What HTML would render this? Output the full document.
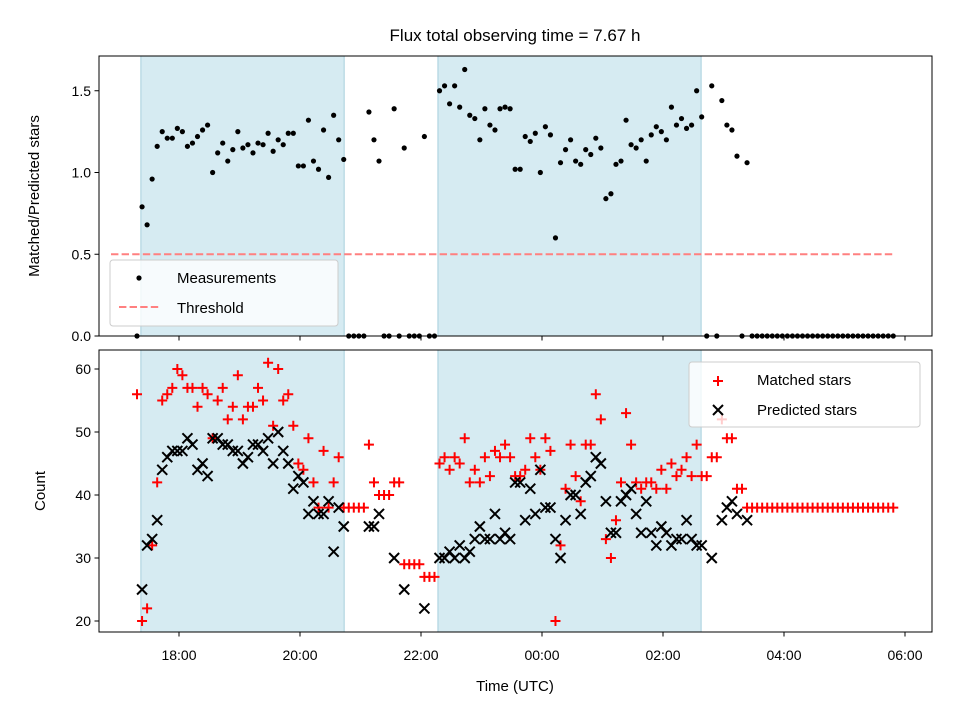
<!DOCTYPE html>
<html><head><meta charset="utf-8"><style>
html,body{margin:0;padding:0;background:#fff}
svg{display:block;font-family:"Liberation Sans","DejaVu Sans",sans-serif}
</style></head><body>
<svg id="chart" width="960" height="720" viewBox="0 0 960 720"></svg>
<script>
const ratioValues=[0,0.79,0.68,0.96,1.16,1.25,1.21,1.21,1.27,1.25,1.16,1.18,1.22,1.26,1.29,1.00,1.12,1.18,1.07,1.14,1.25,1.15,1.17,1.12,1.18,1.17,1.24,1.13,1.20,1.17,1.24,1.24,1.04,1.04,1.32,1.07,1.02,1.26,0.97,1.35,1.20,1.08,
0,0,0,0,1.37,1.20,1.07,0,0,1.39,0,1.15,0,0,0,1.22,0,0,
1.50,1.53,1.42,1.53,1.40,1.63,1.35,1.33,1.20,1.39,1.29,1.26,1.39,1.40,1.39,1.02,1.02,1.22,1.19,1.24,1.00,1.28,1.23,0.60,1.06,1.14,1.20,1.07,1.05,1.14,1.11,1.21,1.15,0.84,0.87,1.05,1.07,1.32,1.17,1.15,1.20,1.07,1.23,1.28,1.25,1.20,1.40,1.29,1.33,1.27,1.29,1.50,1.34,
0,1.53,0,1.44,1.29,1.26,1.10,0,1.06,
0,0,0,0,0,0,0,0,0,0,0,0,0,0,0,0,0,0,0,0,0,0,0,0,0,0,0,0,0];
const matchedValues=[56,20,22,32,42,55,56,57,60,59,57,57,54,57,56,49,55,57,52,54,59,52,54,54,57,55,61,51,60,55,56,51,45,44,49,42,38,47,38,42,46,38,
38,38,38,38,48,42,40,40,40,42,42,29,29,29,29,27,27,27,
45,46,44,46,45,49,42,44,42,46,43,47,46,48,46,43,43,44,49,46,44,49,47,20,32,41,48,43,39,48,48,56,52,33,30,36,42,53,48,42,41,42,42,41,44,41,45,43,44,46,43,48,43,
43,46,46,52,49,49,41,41,38,
38,38,38,38,38,38,38,38,38,38,38,38,38,38,38,38,38,38,38,38,38,38,38,38,38,38,38,38,38];
const predictedValues=[null,25,32,33,36,44,46,47,47,47,49,48,44,45,43,49,49,48,48,47,47,45,46,48,48,47,49,45,50,47,45,41,43,42,37,39,37,37,39,31,38,35,
null,null,null,null,35,35,37,null,null,30,null,25,null,null,null,22,null,null,
30,30,31,30,32,30,31,33,35,33,33,37,33,34,33,42,42,36,41,37,44,38,38,33,30,36,40,40,37,42,43,46,45,39,34,34,39,40,41,37,34,39,34,32,35,34,32,33,33,36,33,32,32,
null,30,null,36,38,39,37,null,36,
null,null,null,null,null,null,null,null,null,null,null,null,null,null,null,null,null,null,null,null,null,null,null,null,null,null,null,null,null];
const startHour=17.306, stepMinutes=5;
const xTickHours=[18,20,22,24,26,28,30];
const xTickLabels=["18:00","20:00","22:00","00:00","02:00","04:00","06:00"];
const ratioTicks=[0,0.5,1.0,1.5];
const ratioTickLabels=["0.0","0.5","1.0","1.5"];
const countTicks=[20,30,40,50,60];
const spans=[[17.37,20.73],[22.28,26.63]];
const threshold=0.5;

const NS="http://www.w3.org/2000/svg";
const svg=document.getElementById('chart');
function mk(tag,attrs,parent){const e=document.createElementNS(NS,tag);for(const k in attrs)e.setAttribute(k,attrs[k]);(parent||svg).appendChild(e);return e;}
const X=h=>179+(h-18)*60.5;
const YR=v=>336-v*163.5;
const YC=c=>621-(c-20)*6.3;
const L=99,R=932,T1=56,B1=336,T2=350,B2=632;
const times=ratioValues.map((_,i)=>startHour+i*stepMinutes/60);

let t=mk('text',{x:515,y:41,'text-anchor':'middle','font-size':17});t.textContent='Flux total observing time = 7.67 h';



[[T1,B1,'top'],[T2,B2,'bottom']].forEach(([top,bot,nm])=>{
  spans.forEach((s,k)=>{
    const r=mk('rect',{x:X(s[0]),y:top,width:X(s[1])-X(s[0]),height:bot-top,fill:'#add8e6','fill-opacity':0.5,stroke:'#a6cfdc','stroke-width':1});
    
    
  });
});

const gTop=mk('g',{});


ratioValues.forEach((v,i)=>{
  const c=mk('circle',{cx:X(times[i]),cy:YR(v),r:2.6,fill:'#000'},gTop);
  
  
});
let th=mk('line',{x1:X(times[0])-26,x2:X(times[times.length-1]),y1:YR(threshold),y2:YR(threshold),stroke:'#ff8080','stroke-width':2,'stroke-dasharray':'7.4,3.2'});



const gM=mk('g',{stroke:'#ff0000','stroke-width':2});


matchedValues.forEach((v,i)=>{
  if(v==null)return;const x=X(times[i]),y=YC(v);
  const p=mk('path',{d:`M${x-5},${y}H${x+5}M${x},${y-5}V${y+5}`},gM);
  
  
});
const gP=mk('g',{stroke:'#000','stroke-width':2});


predictedValues.forEach((v,i)=>{
  if(v==null)return;const x=X(times[i]),y=YC(v);
  const p=mk('path',{d:`M${x-5},${y-5}L${x+5},${y+5}M${x-5},${y+5}L${x+5},${y-5}`},gP);
  
  
});

[[T1,B1,'top-axes-frame'],[T2,B2,'bottom-axes-frame']].forEach(([top,bot,nm])=>{
  const f=mk('rect',{x:L,y:top,width:R-L,height:bot-top,fill:'none',stroke:'#000','stroke-width':1});
  
  
  xTickHours.forEach(h=>{mk('line',{x1:X(h),x2:X(h),y1:bot,y2:bot+4.5,stroke:'#000','stroke-width':1});});
});
xTickHours.forEach((h,k)=>{
  const tx=mk('text',{x:X(h),y:B2+28,'text-anchor':'middle','font-size':14});tx.textContent=xTickLabels[k];
  
  
});
ratioTicks.forEach((v,k)=>{
  mk('line',{x1:L-4.5,x2:L,y1:YR(v),y2:YR(v),stroke:'#000'});
  const tx=mk('text',{x:L-8,y:YR(v)+5,'text-anchor':'end','font-size':14});tx.textContent=ratioTickLabels[k];
  
  
});
countTicks.forEach(v=>{
  mk('line',{x1:L-4.5,x2:L,y1:YC(v),y2:YC(v),stroke:'#000'});
  const tx=mk('text',{x:L-8,y:YC(v)+5,'text-anchor':'end','font-size':14});tx.textContent=String(v);
  
  
});
let a=mk('text',{x:0,y:0,'text-anchor':'middle','font-size':15,transform:`translate(39,196) rotate(-90)`});a.textContent='Matched/Predicted stars';


a=mk('text',{x:0,y:0,'text-anchor':'middle','font-size':15,transform:`translate(45,491) rotate(-90)`});a.textContent='Count';


a=mk('text',{x:515,y:691,'text-anchor':'middle','font-size':15});a.textContent='Time (UTC)';



const lg1=mk('g',{});


mk('rect',{x:110,y:260,width:228,height:66,rx:3,fill:'#fff','fill-opacity':0.8,stroke:'#ccc'},lg1);
mk('circle',{cx:139,cy:278,r:2.6,fill:'#000'},lg1);
let e=mk('text',{x:177,y:283,'font-size':15},lg1);e.textContent='Measurements';


mk('line',{x1:119,x2:160,y1:307,y2:307,stroke:'#ff8080','stroke-width':2,'stroke-dasharray':'7.4,3.2'},lg1);
e=mk('text',{x:177,y:313,'font-size':15},lg1);e.textContent='Threshold';



const lg2=mk('g',{});


mk('rect',{x:689,y:362,width:231,height:65,rx:3,fill:'#fff','fill-opacity':0.8,stroke:'#ccc'},lg2);
mk('path',{d:'M713,381H723M718,376V386',stroke:'#f00','stroke-width':2},lg2);
e=mk('text',{x:757,y:385,'font-size':15},lg2);e.textContent='Matched stars';


mk('path',{d:'M713,405L723,415M713,415L723,405',stroke:'#000','stroke-width':2},lg2);
e=mk('text',{x:757,y:415,'font-size':15},lg2);e.textContent='Predicted stars';


</script>
</body></html>
